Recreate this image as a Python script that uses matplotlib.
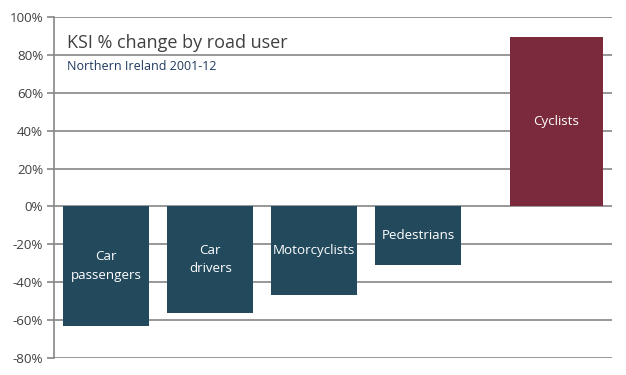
import numpy as np
import matplotlib
matplotlib.use("Agg")
import matplotlib.pyplot as plt

# data
road_users = ["Car\npassengers", "Car\ndrivers", "Motorcyclists", "Pedestrians", "Cyclists"]
pct_change = [-63, -56, -46.5, -31, 89.5]
positions = [0, 1, 2, 3, 4.33]
bar_widths = [0.83, 0.83, 0.83, 0.83, 0.9]
bar_colors = ["#22495C", "#22495C", "#22495C", "#22495C", "#7B2A3B"]
yticks = np.arange(-80, 101, 20)

plt.rcParams['font.family'] = ['Open Sans', 'DejaVu Sans']

fig = plt.figure(figsize=(6.26, 3.75), dpi=100)
ax = fig.add_axes([0.0867, 0.0453, 0.977 - 0.0867, 0.9094])

ax.bar(positions, pct_change, width=bar_widths, color=bar_colors, zorder=2)

# labels in the middle of each bar
for x, v, name in zip(positions, pct_change, road_users):
    ax.text(x, v / 2, name, ha="center", va="center", color="white",
            fontsize=9.6, linespacing=1.55, zorder=3)

ax.set_xlim(-0.5, 4.86)
ax.set_ylim(-80, 100)
ax.set_yticks(yticks)
ax.set_yticklabels([f"{t}%" for t in yticks])
ax.set_xticks([])
ax.yaxis.grid(True, color="#868686", linewidth=1.2, zorder=0)
ax.tick_params(axis="y", length=5, width=1.2, color="#868686", labelsize=9.6,
               labelcolor="#404040", pad=3)

for s in ["top", "right", "bottom"]:
    ax.spines[s].set_visible(False)
ax.spines["left"].set_color("#868686")
ax.spines["left"].set_linewidth(1.2)

fig.text(0.107, 0.885, "KSI % change by road user", fontsize=13, color="#404040", va="center")
fig.text(0.107, 0.823, "Northern Ireland 2001-12", fontsize=9, color="#1F3A5F", va="center")

fig.savefig("out.png", dpi=100)
